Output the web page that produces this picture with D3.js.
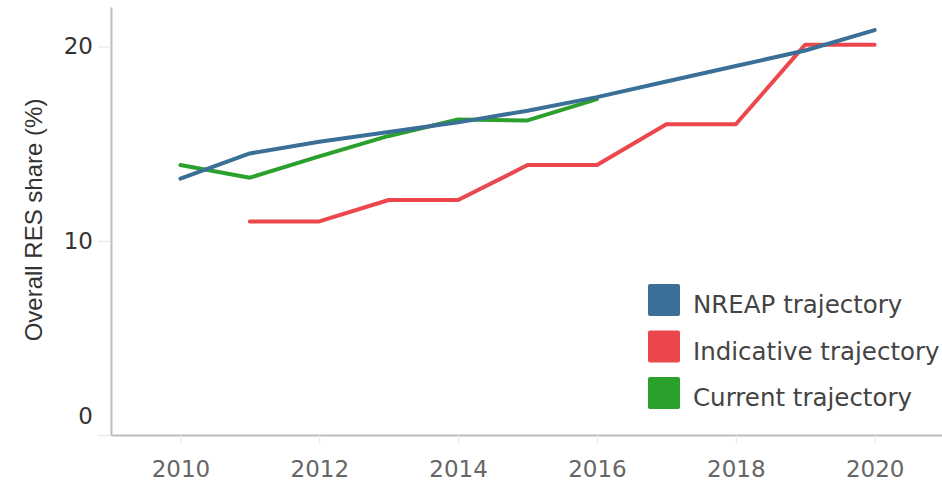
<!DOCTYPE html>
<html>
<head>
<meta charset="utf-8">
<script src="https://cdn.jsdelivr.net/npm/d3@7"></script>
<style>
  body { margin: 0; background: #fff; }
  text { font-family: "DejaVu Sans", sans-serif; }
</style>
</head>
<body>
<svg id="chart"></svg>
<script>
const years = [2010, 2011, 2012, 2013, 2014, 2015, 2016, 2017, 2018, 2019, 2020];
const nreap = [13.2, 14.5, 15.1, 15.6, 16.1, 16.7, 17.4, 18.2, 19.0, 19.8, 20.85];
const indicativeYears = [2011, 2012, 2013, 2014, 2015, 2016, 2017, 2018, 2019, 2020];
const indicative = [11.0, 11.0, 12.1, 12.1, 13.9, 13.9, 16.0, 16.0, 20.1, 20.1];
const currentYears = [2010, 2011, 2012, 2013, 2014, 2015, 2016];
const current = [13.9, 13.25, 14.35, 15.4, 16.25, 16.2, 17.3];
const xTicks = [2010, 2012, 2014, 2016, 2018, 2020];
const yTicks = [0, 10, 20];
const seriesNames = ['NREAP trajectory', 'Indicative trajectory', 'Current trajectory'];
const seriesColors = ['#3a6f98', '#eb474c', '#2ca02c'];

const W = 942, H = 490;
const margin = {top: 7, right: 0, bottom: 55, left: 111};
const width = W - margin.left - margin.right;
const height = H - margin.top - margin.bottom;

const svg = d3.select('#chart').attr('width', W).attr('height', H);
const g = svg.append('g').attr('transform', 'translate(' + margin.left + ',' + margin.top + ')');

const x = d3.scaleLinear().domain([2009, 2020.97]).range([0, width]);
const y = d3.scaleLinear().domain([0, 22.04]).range([height, 0]);

/* x axis */
const xAxis = g.append('g')
    .attr('transform', 'translate(0,' + height + ')')
    .call(d3.axisBottom(x).tickValues(xTicks).tickFormat(d3.format('d'))
        .tickSizeInner(8).tickSizeOuter(0).tickPadding(18));
xAxis.select('.domain').attr('stroke', '#bdbdbd').attr('stroke-width', 2);
xAxis.selectAll('.tick line').attr('stroke', '#e6e6e6').attr('stroke-width', 1);
xAxis.selectAll('.tick text').attr('fill', '#666').style('font-size', '23px');

/* y axis */
const yAxis = g.append('g')
    .call(d3.axisLeft(y).tickValues(yTicks).tickSizeInner(13).tickSizeOuter(0).tickPadding(5));
yAxis.select('.domain').attr('stroke', '#bdbdbd').attr('stroke-width', 2);
yAxis.selectAll('.tick line').attr('stroke', '#e6e6e6').attr('stroke-width', 1);
yAxis.selectAll('.tick text').attr('fill', '#333').style('font-size', '23px')
    .attr('y', d => d === 0 ? -18.5 : 0);

/* y axis title */
svg.append('text')
    .attr('transform', 'translate(42,' + 220 + ') rotate(-90)')
    .attr('text-anchor', 'middle')
    .attr('fill', '#333')
    .style('font-family', '"Liberation Sans", Arial, sans-serif')
    .style('font-size', '24px')
    .text('Overall RES share (%)');

const line = d3.line()
    .x(d => x(d[0]))
    .y(d => y(d[1]));

const series = [
    d3.zip(years, nreap),
    d3.zip(indicativeYears, indicative),
    d3.zip(currentYears, current)
];

/* draw order: indicative, current, nreap on top */
[1, 2, 0].forEach(i => {
    g.append('path')
        .datum(series[i])
        .attr('fill', 'none')
        .attr('stroke', seriesColors[i])
        .attr('stroke-width', 4)
        .attr('stroke-linejoin', 'round')
        .attr('stroke-linecap', 'round')
        .attr('d', line);
});

/* legend */
const legend = svg.append('g').attr('transform', 'translate(648,284)');
const item = legend.selectAll('g')
    .data(seriesNames)
    .enter().append('g')
    .attr('transform', (d, i) => 'translate(0,' + i * 46.5 + ')');
item.append('rect')
    .attr('width', 32)
    .attr('height', 32)
    .attr('rx', 2)
    .attr('fill', (d, i) => seriesColors[i]);
item.append('text')
    .attr('x', 45)
    .attr('y', 29)
    .attr('fill', '#444')
    .style('font-size', '24.5px')
    .text(d => d);
</script>
</body>
</html>
